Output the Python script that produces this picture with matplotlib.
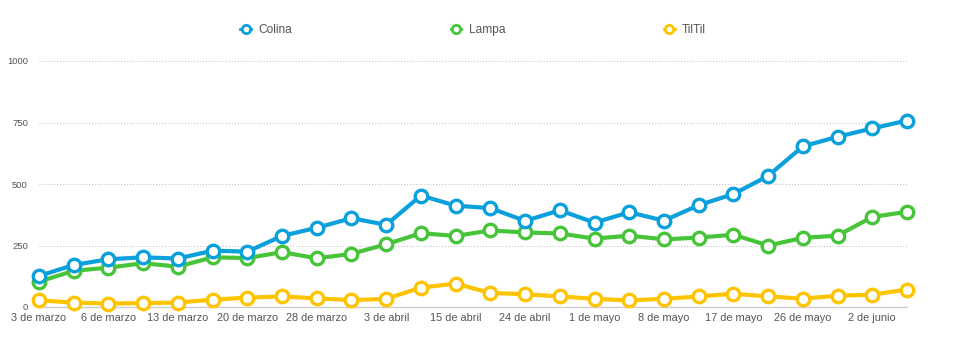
import matplotlib
matplotlib.use('Agg')
import matplotlib.pyplot as plt

plt.rcParams['font.family'] = ['Liberation Sans', 'DejaVu Sans']

tick_labels = ['3 de marzo', '6 de marzo', '13 de marzo', '20 de marzo', '28 de marzo',
               '3 de abril', '15 de abril', '24 de abril', '1 de mayo', '8 de mayo',
               '17 de mayo', '26 de mayo', '2 de junio']

colina = [126, 171, 194, 202, 197, 229, 225, 289, 322, 361, 334, 453, 412,
          402, 350, 393, 343, 385, 351, 414, 459, 533, 653, 692, 726, 758]
lampa = [103, 147, 160, 178, 164, 202, 199, 223, 198, 216, 255, 300, 289,
         311, 303, 299, 278, 290, 275, 282, 294, 250, 281, 290, 366, 387]
tiltil = [27, 18, 14, 16, 18, 30, 38, 43, 35, 28, 33, 79, 95,
          57, 52, 43, 33, 27, 33, 43, 54, 43, 34, 46, 50, 71]

series = [('Colina', colina, '#0aa0dc'),
          ('Lampa', lampa, '#48c43a'),
          ('TilTil', tiltil, '#ffc400')]

text_color = '#555555'

fig = plt.figure(figsize=(9.57, 3.52), dpi=100)
ax = fig.add_axes([39 / 957, 45 / 352, 868 / 957, 246 / 352])

x = list(range(len(colina)))
for i, (name, vals, color) in enumerate(series):
    ax.plot(x, vals, color=color, linewidth=3.0, marker='o', markersize=9,
            markerfacecolor='white', markeredgecolor=color, markeredgewidth=2.4,
            label=name, zorder=6 - i, clip_on=False)

ax.set_xlim(0, len(colina) - 1)
ax.set_ylim(0, 1000)
ax.set_yticks([0, 250, 500, 750, 1000])
ax.set_yticklabels(['0', '250', '500', '750', '1000'], fontsize=6.8, color=text_color)
ax.set_xticks(range(0, len(colina), 2))
ax.set_xticklabels(tick_labels, fontsize=7.9, color=text_color)
ax.tick_params(axis='y', length=0, pad=8)
ax.tick_params(axis='x', length=0, pad=4)

ax.grid(axis='y', linestyle=(0, (1, 2)), linewidth=0.7, color='#bbbbbb')
ax.grid(axis='x', visible=False)
for s in ['top', 'right', 'left']:
    ax.spines[s].set_visible(False)
ax.spines['bottom'].set_color('#cccccc')
ax.spines['bottom'].set_linewidth(1.0)

leg_handles = []
for name, vals, color in series:
    h, = ax.plot([], [], color=color, linewidth=2, marker='o', markersize=6,
                 markerfacecolor='white', markeredgecolor=color, markeredgewidth=2)
    leg_handles.append(h)
fig.legend(leg_handles, [s[0] for s in series], loc='center',
           bbox_to_anchor=(473 / 957, 1 - 30 / 352), ncol=3, frameon=False,
           fontsize=8.6, labelcolor=text_color, handlelength=0.9,
           handletextpad=0.6, columnspacing=13.3)

fig.savefig('out.png', dpi=100)
